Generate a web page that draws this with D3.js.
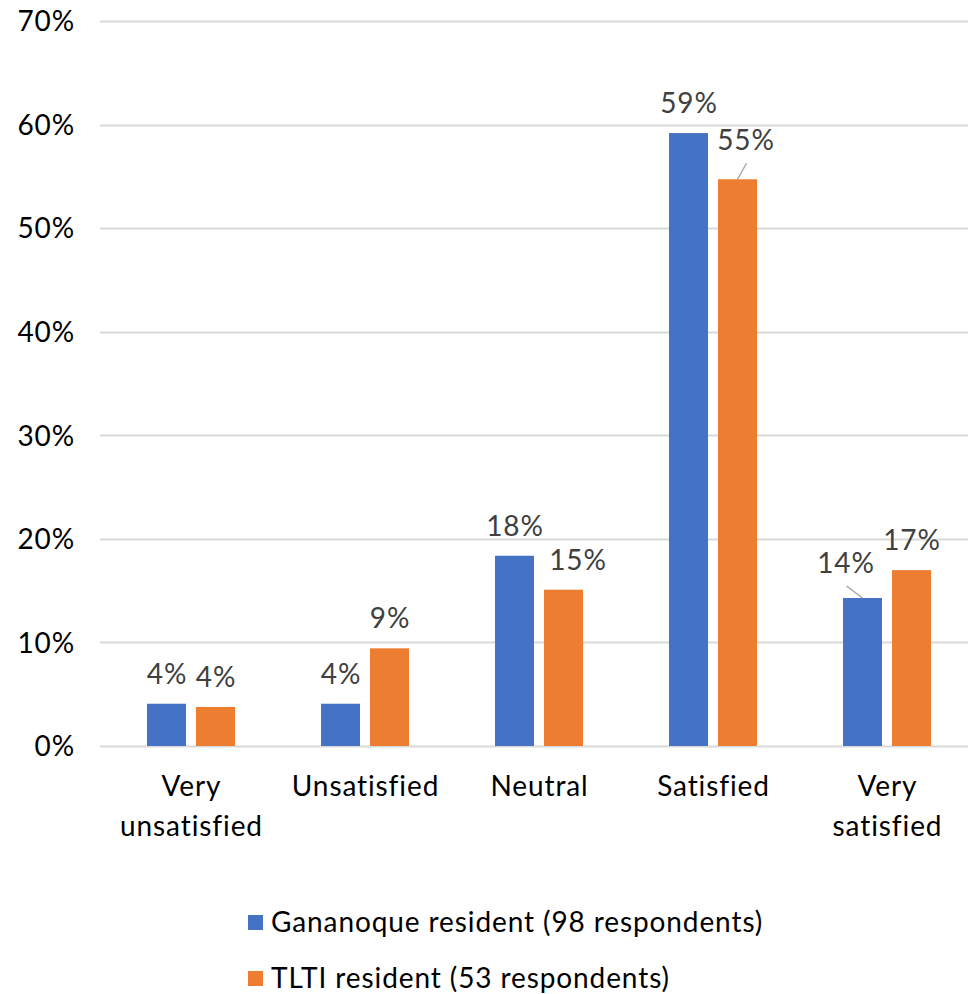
<!DOCTYPE html>
<html>
<head>
<meta charset="utf-8">
<script src="https://cdn.jsdelivr.net/npm/d3@7"></script>
<style>
  html, body { margin: 0; padding: 0; background: #fff; }
  svg { display: block; font-family: Lato, "Open Sans", sans-serif; }
  svg text { letter-spacing: 0.9px; }
</style>
</head>
<body>
<svg id="chart" width="968" height="994"></svg>
<script>
// Satisfaction ratings by respondent group
const categories = [["Very", "unsatisfied"], ["Unsatisfied"], ["Neutral"], ["Satisfied"], ["Very", "satisfied"]];
const seriesNames = ["Gananoque resident (98 respondents)", "TLTI resident (53 respondents)"];
const gananoque = [4.08, 4.08, 18.37, 59.18, 14.29];
const tlti = [3.77, 9.43, 15.09, 54.72, 16.98];
const yTicks = [0, 10, 20, 30, 40, 50, 60, 70];
const colors = ["#4472C4", "#ED7D31"];

const FS = 28;
const svg = d3.select("#chart");
const margin = { left: 104, right: -6, top: 21, bottom: 248 };
const W = 968, H = 994;

const x = d3.scaleBand()
  .domain(d3.range(categories.length))
  .range([margin.left, W - margin.right])
  .paddingInner(0).paddingOuter(0);

const y = d3.scaleLinear().domain([0, 70]).range([H - margin.bottom, margin.top]);

// gridlines
svg.append("g")
  .selectAll("line")
  .data(yTicks)
  .join("line")
  .attr("x1", 100).attr("x2", W)
  .attr("y1", d => Math.round(y(d)) + 0.5).attr("y2", d => Math.round(y(d)) + 0.5)
  .attr("stroke", "#d9d9d9").attr("stroke-width", 2);

// y axis labels
const yAxis = d3.axisLeft(y).tickValues(yTicks).tickSize(0).tickPadding(0).tickFormat(d => d + "%");
svg.append("g")
  .attr("transform", "translate(75,0)")
  .call(yAxis)
  .attr("font-family", null).attr("font-size", null)
  .call(g => g.select(".domain").remove())
  .call(g => g.selectAll("text")
    .attr("font-size", FS).attr("fill", "#000").attr("dy", "0.35em"));

// bars
const barW = 39, gap = 10;
const series = [gananoque, tlti];
const barX = (si, i) => x(i) + x.bandwidth() / 2 - barW - gap / 2 + si * (barW + gap);
series.forEach((vals, si) => {
  svg.append("g")
    .selectAll("rect")
    .data(vals)
    .join("rect")
    .attr("x", (d, i) => barX(si, i))
    .attr("width", barW)
    .attr("y", d => y(d))
    .attr("height", d => y(0) - y(d))
    .attr("fill", colors[si]);
});

// data labels (some moved aside, two tied back with leader lines)
const labelOffsets = [
  [{}, {}, {}, {}, { dx: -17, dy: -5, leader: true }],
  [{}, {}, { dx: 14 }, { dx: 8, dy: -9, leader: true }, {}]
];
series.forEach((vals, si) => {
  vals.forEach((v, i) => {
    const cx = barX(si, i) + barW / 2;
    const top = y(v);
    const o = labelOffsets[si][i];
    const lx = cx + (o.dx || 0);
    const ly = top - 20 + (o.dy || 0);
    svg.append("text")
      .attr("x", lx + 0.5).attr("y", ly)
      .attr("text-anchor", "middle")
      .attr("font-size", FS).attr("fill", "#404040")
      .text(Math.round(v) + "%");
    if (o.leader) {
      svg.append("line")
        .attr("x1", lx + 1).attr("y1", ly + 13)
        .attr("x2", cx).attr("y2", top)
        .attr("stroke", "#a6a6a6").attr("stroke-width", 1.5);
    }
  });
});

// x category labels
const xl = svg.append("g");
categories.forEach((lines, i) => {
  const cx = x(i) + x.bandwidth() / 2 + 0.5;
  const t = xl.append("text")
    .attr("x", cx)
    .attr("y", 796)
    .attr("text-anchor", "middle")
    .attr("font-size", FS).attr("fill", "#000");
  lines.forEach((ln, k) => {
    t.append("tspan").attr("x", cx).attr("dy", k === 0 ? 0 : 40).text(ln);
  });
});

// legend
const legend = svg.append("g");
seriesNames.forEach((name, si) => {
  const ly = 915 + si * 56;
  legend.append("rect").attr("x", 248).attr("y", ly).attr("width", 15).attr("height", 15).attr("fill", colors[si]);
  legend.append("text").attr("x", 271).attr("y", ly + 17)
    .attr("font-size", FS).attr("fill", "#000").text(name);
});
</script>
</body>
</html>
